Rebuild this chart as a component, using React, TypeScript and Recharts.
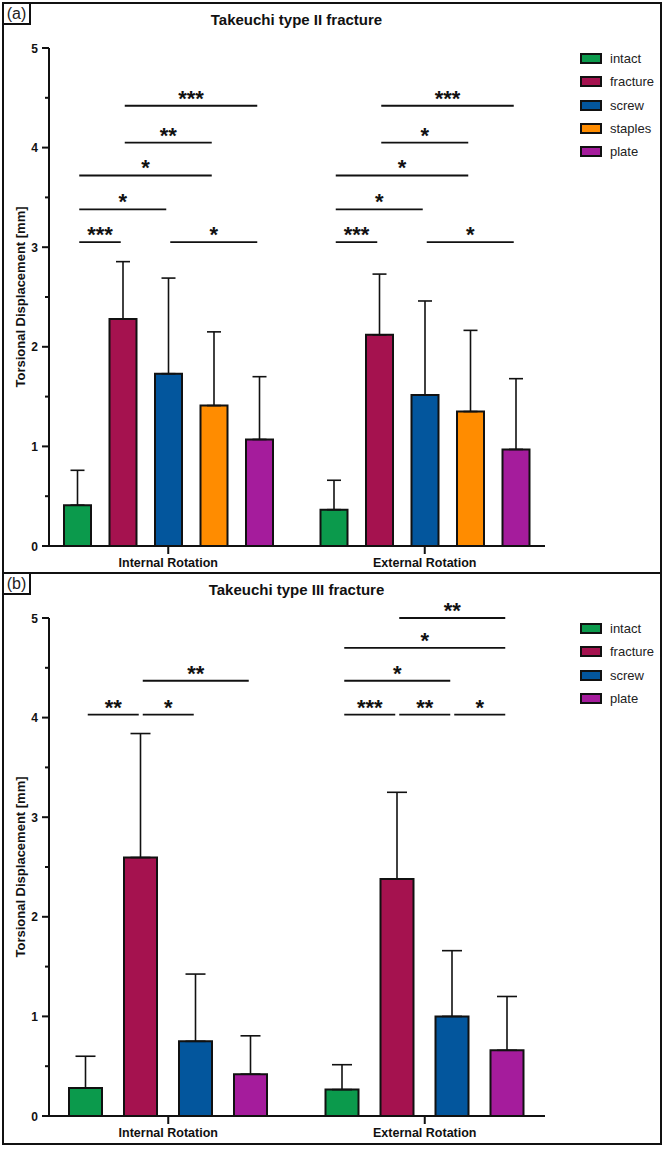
import React from 'react';
import { BarChart, Bar, XAxis, YAxis, ErrorBar, ReferenceLine } from 'recharts';

const FONT = '"Liberation Sans", Arial, Helvetica, sans-serif';
const INK = '#111';

const ROTATIONS = ['Internal Rotation', 'External Rotation'];
const Y_TICKS = [0, 0.5, 1, 1.5, 2, 2.5, 3, 3.5, 4, 4.5, 5];

const GROUP_COLORS: Record<string, string> = {
  intact: '#0b9a4c',
  fracture: '#a5124f',
  screw: '#03569d',
  staples: '#ff8c00',
  plate: '#a51c9c',
};

// Takeuchi type II — mean and SD per rotation, order follows TYPE2_GROUPS
const TYPE2_GROUPS = ['intact', 'fracture', 'screw', 'staples', 'plate'];
const TYPE2_INTERNAL_MEAN = [0.41, 2.28, 1.73, 1.41, 1.07];
const TYPE2_INTERNAL_SD = [0.35, 0.575, 0.96, 0.74, 0.63];
const TYPE2_EXTERNAL_MEAN = [0.365, 2.12, 1.515, 1.35, 0.97];
const TYPE2_EXTERNAL_SD = [0.295, 0.61, 0.945, 0.815, 0.71];

// significance bars: [from group, to group, height (mm), stars]
type Sig = [number, number, number, string];
const TYPE2_INTERNAL_SIG: Sig[] = [
  [0, 1, 3.05, '***'],
  [2, 4, 3.05, '*'],
  [0, 2, 3.38, '*'],
  [0, 3, 3.72, '*'],
  [1, 3, 4.05, '**'],
  [1, 4, 4.42, '***'],
];
const TYPE2_EXTERNAL_SIG: Sig[] = [
  [0, 1, 3.05, '***'],
  [2, 4, 3.05, '*'],
  [0, 2, 3.38, '*'],
  [0, 3, 3.72, '*'],
  [1, 3, 4.05, '*'],
  [1, 4, 4.42, '***'],
];

// Takeuchi type III
const TYPE3_GROUPS = ['intact', 'fracture', 'screw', 'plate'];
const TYPE3_INTERNAL_MEAN = [0.28, 2.595, 0.75, 0.42];
const TYPE3_INTERNAL_SD = [0.32, 1.245, 0.675, 0.385];
const TYPE3_EXTERNAL_MEAN = [0.265, 2.38, 1.0, 0.66];
const TYPE3_EXTERNAL_SD = [0.25, 0.87, 0.66, 0.54];

const TYPE3_INTERNAL_SIG: Sig[] = [
  [0, 1, 4.03, '**'],
  [1, 2, 4.03, '*'],
  [1, 3, 4.37, '**'],
];
const TYPE3_EXTERNAL_SIG: Sig[] = [
  [0, 1, 4.03, '***'],
  [1, 2, 4.03, '**'],
  [2, 3, 4.03, '*'],
  [0, 2, 4.37, '*'],
  [0, 3, 4.7, '*'],
  [1, 3, 5.0, '**'],
];

const CHART_W = 666;
const CHART_H = 570;
const MARGIN = { top: 45, right: 121, bottom: 5, left: 19 };
const Y_AXIS_W = 30;
const PAD = { left: -9, right: -8 };
const PLOT_W = CHART_W - MARGIN.left - Y_AXIS_W - MARGIN.right;
const RANGE_PX = PLOT_W - PAD.left - PAD.right;
const BAND_PX = RANGE_PX / ROTATIONS.length;

function buildRows(groups: string[], means: number[][], sds: number[][]) {
  return ROTATIONS.map((name, r) => {
    const row: Record<string, any> = { name };
    groups.forEach((g, i) => {
      row[g] = means[r][i];
      row[`${g}Err`] = [0, sds[r][i]];
    });
    return row;
  });
}

const YTick = (props: any) => {
  const { x, y, payload } = props;
  const v = payload.value as number;
  const major = Number.isInteger(v);
  const axisX = x + 11;
  return (
    <g>
      <line x1={axisX - (major ? 7 : 4)} x2={axisX} y1={y} y2={y} stroke={INK} strokeWidth={2} />
      {major && (
        <text x={axisX - 11} y={y} dy={4.5} textAnchor="end" fontSize={12} fontWeight={700} fill={INK}>
          {v}
        </text>
      )}
    </g>
  );
};

type PanelProps = {
  tag: string;
  title: string;
  top: number;
  boxHeight: number;
  groups: string[];
  rows: Record<string, any>[];
  sig: Sig[][];
  barSize: number;
  barGap: number;
  capWidth: number;
};

function Panel({ tag, title, top, boxHeight, groups, rows, sig, barSize, barGap, capWidth }: PanelProps) {
  const n = groups.length;
  // bar centre as a fraction (0..1) of the category range
  const centre = (r: number, j: number) =>
    (BAND_PX * (r + 0.5) + (j - (n - 1) / 2) * (barSize + barGap)) / RANGE_PX;
  const inset = 2 / RANGE_PX;
  const plotTop = top + MARGIN.top;
  const plotBottom = top + CHART_H - MARGIN.bottom - 22;

  return (
    <>
      <div
        style={{
          position: 'absolute', left: 2, top: top - 1, width: 660, height: boxHeight,
          border: `2px solid ${INK}`, boxSizing: 'border-box',
        }}
      />
      <div
        style={{
          position: 'absolute', left: 2, top: top - 1, width: 29, height: 23,
          border: `2px solid ${INK}`, boxSizing: 'border-box', background: '#fff',
          fontSize: 16, lineHeight: '19px', textAlign: 'center', color: '#222',
        }}
      >
        {tag}
      </div>
      <div
        style={{
          position: 'absolute', left: 0, width: 593, top: top + 8, textAlign: 'center',
          fontSize: 15, fontWeight: 700, color: INK, whiteSpace: 'nowrap',
        }}
      >
        {title}
      </div>
      <div
        style={{
          position: 'absolute', left: 20, top: (plotTop + plotBottom) / 2,
          transform: 'translate(-50%, -50%) rotate(-90deg)',
          fontSize: 13, fontWeight: 700, color: INK, whiteSpace: 'nowrap',
        }}
      >
        Torsional Displacement [mm]
      </div>
      <div style={{ position: 'absolute', left: 580, top: top + 44 }}>
        {groups.map(g => (
          <div key={g} style={{ display: 'flex', alignItems: 'center', height: 23.3 }}>
            <div
              style={{
                width: 22, height: 11, background: GROUP_COLORS[g],
                border: `2px solid ${INK}`, boxSizing: 'border-box',
              }}
            />
            <span style={{ marginLeft: 8, fontSize: 13, color: '#222' }}>{g}</span>
          </div>
        ))}
      </div>
      <div style={{ position: 'absolute', left: 0, top }}>
        <BarChart
          width={CHART_W}
          height={CHART_H}
          data={rows}
          margin={MARGIN}
          barSize={barSize}
          barGap={barGap}
          style={{ fontFamily: FONT }}
        >
          <XAxis
            dataKey="name"
            height={22}
            padding={PAD}
            tickSize={8}
            tickMargin={4}
            tick={{ fill: INK, fontSize: 12.5, fontWeight: 700 }}
            tickLine={{ stroke: INK, strokeWidth: 2 }}
            axisLine={{ stroke: INK, strokeWidth: 2 }}
          />
          <XAxis xAxisId="pos" type="number" domain={[0, 1]} padding={PAD} hide allowDataOverflow />
          <YAxis
            width={Y_AXIS_W}
            domain={[0, 5]}
            ticks={Y_TICKS}
            interval={0}
            tickSize={7}
            tickMargin={4}
            tickLine={false}
            tick={(p: any) => <YTick {...p} />}
            axisLine={{ stroke: INK, strokeWidth: 2 }}
          />
          {groups.map(g => (
            <Bar key={g} dataKey={g} fill={GROUP_COLORS[g]} stroke={INK} strokeWidth={2} isAnimationActive={false}>
              <ErrorBar dataKey={`${g}Err`} direction="y" width={capWidth} stroke={INK} strokeWidth={1.6} isAnimationActive={false} />
            </Bar>
          ))}
          {sig.flatMap((list, r) =>
            list.map(([a, b, y, stars], k) => (
              <ReferenceLine
                key={`${r}-${k}`}
                xAxisId="pos"
                segment={[{ x: centre(r, a) + inset, y }, { x: centre(r, b) - inset, y }]}
                stroke={INK}
                strokeWidth={1.8}
                ifOverflow="visible"
                label={{ value: stars, position: 'top', offset: 0, fill: INK, fontSize: 22, fontWeight: 700 }}
              />
            ))
          )}
        </BarChart>
      </div>
    </>
  );
}

export default function App() {
  const type2Rows = buildRows(TYPE2_GROUPS, [TYPE2_INTERNAL_MEAN, TYPE2_EXTERNAL_MEAN], [TYPE2_INTERNAL_SD, TYPE2_EXTERNAL_SD]);
  const type3Rows = buildRows(TYPE3_GROUPS, [TYPE3_INTERNAL_MEAN, TYPE3_EXTERNAL_MEAN], [TYPE3_INTERNAL_SD, TYPE3_EXTERNAL_SD]);

  return (
    <div
      style={{
        position: 'absolute', left: 0, top: 0, width: 666, height: 1149,
        background: '#fff', fontFamily: FONT, overflow: 'hidden',
      }}
    >
      <Panel
        tag="(a)"
        title="Takeuchi type II fracture"
        top={3}
        boxHeight={572}
        groups={TYPE2_GROUPS}
        rows={type2Rows}
        sig={[TYPE2_INTERNAL_SIG, TYPE2_EXTERNAL_SIG]}
        barSize={27}
        barGap={18.5}
        capWidth={7}
      />
      <Panel
        tag="(b)"
        title="Takeuchi type III fracture"
        top={573}
        boxHeight={573}
        groups={TYPE3_GROUPS}
        rows={type3Rows}
        sig={[TYPE3_INTERNAL_SIG, TYPE3_EXTERNAL_SIG]}
        barSize={33}
        barGap={22}
        capWidth={10}
      />
    </div>
  );
}
